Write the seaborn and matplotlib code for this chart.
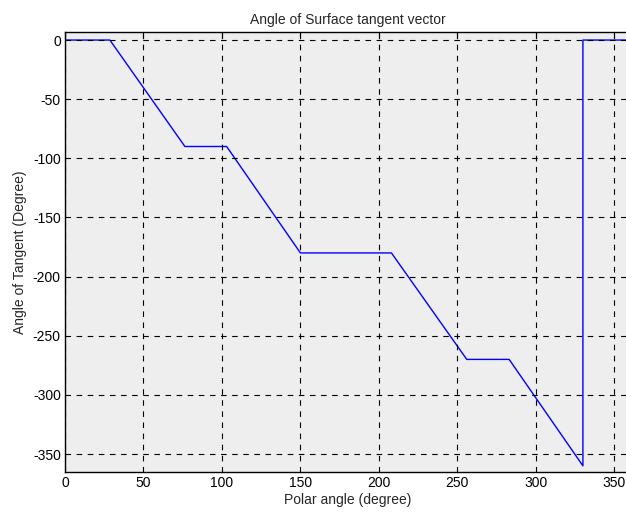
import matplotlib
matplotlib.use("Agg")
import matplotlib.pyplot as plt
import seaborn as sns
import pandas as pd

# Data
polar_angle = [0, 28.6, 76.4, 103, 150, 208, 256, 283, 330, 330, 360]
tangent_angle = [0, 0, -90, -90, -180, -180, -270, -270, -360, 0, 0]
x_ticks = [0, 50, 100, 150, 200, 250, 300, 350]
y_ticks = [0, -50, -100, -150, -200, -250, -300, -350]

sns.set_theme(style="white")
plt.rcParams['font.family'] = ['Liberation Sans', 'DejaVu Sans']

df = pd.DataFrame({"x": polar_angle, "y": tangent_angle})

fig = plt.figure(figsize=(6.26, 5.13), dpi=100)
ax = fig.add_axes([65/626, 1 - 472/513, 565/626, (472 - 32)/513])
ax.set_facecolor("#eeeeee")

sns.lineplot(data=df, x="x", y="y", sort=False, estimator=None,
             color="#0000ff", linewidth=1.0, ax=ax)

ax.set_xlim(0, 360)
ax.set_ylim(-365.2, 6.8)
ax.set_xticks(x_ticks)
ax.set_yticks(y_ticks)
ax.set_xticklabels([str(v) for v in x_ticks], fontsize=10)
ax.set_yticklabels([str(v) for v in y_ticks], fontsize=10)
ax.grid(True, color="black", linestyle=(0, (5, 5)), linewidth=0.8)
ax.set_axisbelow(False)
ax.tick_params(direction="in", length=4, width=0.8, colors="black",
               top=True, right=False, pad=3)
for s in ["left", "bottom", "top"]:
    ax.spines[s].set_visible(True)
    ax.spines[s].set_color("black")
    ax.spines[s].set_linewidth(1.0)
ax.spines["right"].set_visible(False)

ax.set_title("Angle of Surface tangent vector", fontsize=10, pad=6)
ax.set_xlabel("Polar angle (degree)", fontsize=10, labelpad=2)
ax.set_ylabel("Angle of Tangent (Degree)", fontsize=10, labelpad=4)

fig.savefig("out.png", dpi=100)
